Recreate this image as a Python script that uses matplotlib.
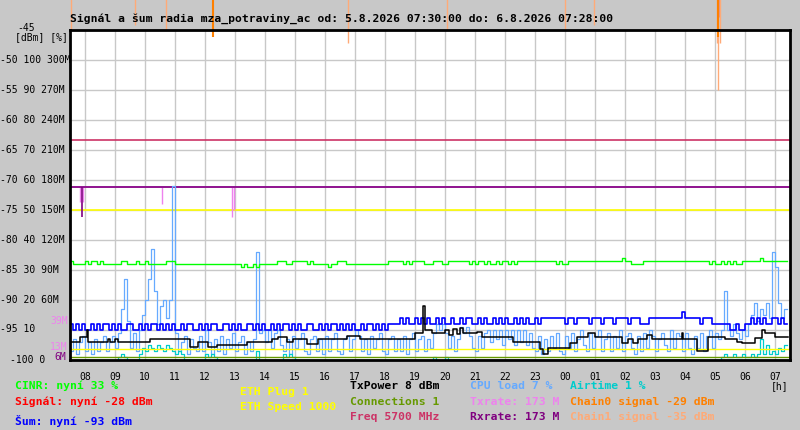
import numpy as np
import matplotlib
matplotlib.use("Agg")
import matplotlib.pyplot as plt

# Time axis: hours since 07:30, one sample every 6 minutes
hour_labels = ['08', '09', '10', '11', '12', '13', '14', '15', '16', '17', '18', '19',
               '20', '21', '22', '23', '00', '01', '02', '03', '04', '05', '06', '07']
step_h = 0.1

# CINR in % (digit = value - 30)
cinr_str = ("2322223233" "2322222233" "2223223222" "2223332222" "2222222222"
            "2222222212" "1121222222" "3332233333" "2322222122" "3332222222"
            "2222222333" "3323233332" "2233322333" "3333232332" "3223233232"
            "3333333333" "3332322333" "3333333333" "3333343322" "2233333333"
            "3333333333" "3333232232" "3232233333" "3433333333")

# noise in dBm (digit = -(90 + d)), first sample separate
noise_first = -69.5
noise_str = ("4545455454" "5445454554" "4554545445" "4545455454" "4554545445"
             "5445454554" "4545455454" "5445454554" "4554545445" "4545455454"
             "454545" "444"
             "4343443434" "3443434434" "4343344343" "4434343443" "434344343"
             "3333333" "4334" "3333" "4" "333" "4" "333" "4" "3333" "4" "333" "44" "4"
             "33333333333" "2" "33333" "4" "333" "4"
             "444445545544" "343434433434")

cpu_load = [6, 3, 7, 2, 6, 8, 3, 6, 2, 7,
            3, 6, 8, 3, 6, 8, 4, 9, 17, 27,
            13, 4, 9, 3, 10, 15, 20, 27, 37, 23,
            12, 18, 20, 14, 20, 58, 9, 3, 6, 8,
            2, 7, 4, 3, 8, 3, 10, 6, 2, 7,
            3, 8, 2, 7, 4, 9, 3, 6, 8, 2,
            6, 3, 7, 36, 9, 10, 6, 10, 4, 9,
            10, 5, 3, 7, 2, 8, 4, 7, 9, 3,
            2, 7, 8, 3, 7, 2, 8, 3, 7, 9,
            3, 2, 7, 8, 3, 7, 10, 8, 3, 7,
            2, 8, 4, 7, 9, 3, 2, 7, 8, 3,
            7, 3, 8, 2, 7, 9, 3, 7, 8, 3,
            7, 4, 9, 12, 10, 12, 9, 4, 8, 3,
            7, 11, 9, 11, 8, 4, 3, 8, 4, 9,
            10, 6, 10, 7, 10, 5, 10, 7, 10, 5,
            10, 6, 10, 5, 9, 4, 3, 8, 2, 7,
            3, 8, 4, 9, 3, 2, 8, 4, 9, 3,
            7, 10, 5, 3, 9, 4, 8, 10, 3, 7,
            9, 3, 8, 4, 10, 3, 8, 9, 4, 2,
            8, 3, 9, 4, 10, 8, 3, 7, 9, 5,
            3, 10, 4, 9, 8, 3, 9, 4, 2, 8,
            4, 9, 3, 8, 10, 4, 9, 7, 10, 23,
            10, 8, 12, 9, 7, 10, 8, 12, 15, 19,
            13, 17, 15, 19, 14, 36, 31, 19, 14, 17]

airtime = [0, 0, 0, 0, 0, 0, 0, 0, 0, 0,
           0, 0, 0, 0, 0, 0, 0, 1, 2, 1,
           0, 0, 0, 0, 2, 4, 3, 5, 4, 3,
           5, 4, 3, 5, 4, 3, 2, 3, 2, 0,
           0, 0, 0, 0, 0, 0, 2, 1, 2, 1,
           0, 0, 0, 0, 0, 0, 0, 0, 0, 0,
           0, 0, 0, 3, 0, 0, 0, 0, 0, 0,
           0, 0, 2, 1, 2, 1, 0, 0, 0, 0,
           0, 0, 0, 0, 0, 0, 0, 0, 0, 0,
           0, 0, 0, 0, 0, 0, 0, 0, 0, 0,
           0, 0, 0, 0, 0, 0, 0, 0, 0, 0,
           0, 0, 0, 0, 0, 0, 0, 0, 0, 0,
           0, 0, 1, 0, 0, 0, 1, 0, 0, 0,
           0, 0, 0, 0, 0, 0, 0, 0, 0, 0,
           0, 0, 0, 0, 0, 0, 0, 0, 0, 0,
           0, 0, 0, 0, 0, 0, 0, 0, 0, 0,
           0, 0, 0, 0, 0, 0, 0, 0, 0, 0,
           0, 0, 0, 0, 0, 0, 0, 0, 0, 0,
           0, 0, 0, 0, 0, 0, 0, 0, 0, 0,
           0, 0, 0, 0, 0, 0, 0, 0, 0, 0,
           0, 0, 0, 0, 0, 0, 0, 0, 0, 0,
           0, 0, 0, 0, 0, 0, 0, 0, 1, 2,
           1, 1, 2, 1, 1, 2, 1, 1, 2, 1,
           2, 7, 2, 5, 2, 3, 2, 4, 3, 5]

# TxPower trace (plotted level, step changes)
txpower_h = [0, 0.33, 0.57, 0.6, 1.27, 1.33, 1.5, 1.6, 2.67, 4.0, 4.27, 4.6, 4.9, 5.9,
             6.73, 6.93, 7.23, 7.43, 7.9, 8.27, 9.23, 9.67, 11.5, 11.77, 11.83, 12.07,
             12.5, 12.63, 12.77, 12.9, 13.0, 13.1, 13.23, 13.57, 13.73, 14.77, 15.67,
             15.77, 15.93, 16.67, 16.9, 17.27, 17.5, 18.4, 18.6, 18.77, 18.93, 19.23,
             19.4, 20.4, 20.43, 20.9, 21.27, 21.83, 22.23, 22.4, 22.83, 23.07, 23.17,
             23.5, 23.93]
txpower_v = [-97.05, -96.1, -95.0, -97.05, -96.55, -97.05, -96.55, -97.05, -96.55, -97.9,
             -97.05, -97.9, -97.5, -97.05, -96.55, -96.1, -97.05, -96.55, -97.4, -96.55,
             -96.0, -96.55, -95.55, -91.0, -95.0, -95.55, -95.0, -95.8, -94.9, -95.6,
             -94.7, -95.5, -95.55, -95.3, -96.1, -96.95, -98.2, -99.0, -98.05, -97.1,
             -96.1, -95.45, -96.1, -97.1, -96.55, -97.1, -96.55, -95.85, -96.55, -95.55,
             -96.55, -98.5, -96.1, -96.55, -96.95, -97.1, -96.3, -95.0, -95.55, -96.1,
             -96.1]

# constant levels
freq_level = -63.4
rate_now = 173          # Mbit/s
eth_speed = 1000        # Mbit/s -> % scale /20
eth_plug_level = -98.2
connections = 1

txrate_dip_h = [0.34, 0.44, 3.07, 5.4, 5.45]
txrate_dip_v = [158, 158, 156, 143, 150]
rxrate_dip_h = [0.39]
rxrate_dip_v = [143]

signal_now = -28
signal_dip_h = [21.6]
signal_dip_v = [-42.8]
chain0_now = -29
chain0_dip_h = [4.75, 21.6]
chain0_dip_v = [-46.1, -46.2]
chain1_now = -35
chain1_dip_h = [0.02, 2.18, 3.2, 9.27, 12.57, 16.5, 17.47, 21.55, 21.65, 21.6]
chain1_dip_v = [-45, -44.2, -45, -47.1, -45, -45, -44.2, -47.2, -47.2, -55]

txrate_min_label = '39M'
txrate_min2_label = '13M'
rxrate_min_label = '6M'


def pct(v):
    return -100 + np.asarray(v, dtype=float) / 2


def mbit(v):
    return -100 + np.asarray(v, dtype=float) / 6


cinr = pct([30 + int(c) for c in cinr_str])
noise = np.array([noise_first] + [-(90 + int(c)) for c in noise_str], dtype=float)

mono = 'DejaVu Sans Mono'
bg = '#c8c8c8'

fig = plt.figure(figsize=(8, 4.3), dpi=100, facecolor=bg)
ax = fig.add_axes([70 / 800, 70 / 430, 720 / 800, 330 / 430])
ax.set_facecolor('white')
ax.set_xlim(0, 24)
ax.set_ylim(-100, -45)
ax.set_xticks(np.arange(0.5, 24, 1))
ax.set_yticks(np.arange(-100, -44, 5))
ax.tick_params(length=0, labelbottom=False, labelleft=False)
ax.grid(True, color=bg, lw=1.0)
ax.set_axisbelow(True)
for s in ax.spines.values():
    s.set_linewidth(2)
    s.set_color('black')
    s.set_zorder(10)

lw = 0.9

def xs(n):
    return np.arange(n) * step_h

# horizontal levels
ax.axhline(freq_level, color='#cc3366', lw=1.2, zorder=2)
ax.axhline(pct(eth_speed / 20), color='#ffff00', lw=1.2, zorder=2)
ax.axhline(eth_plug_level, color='#ffff00', lw=1.0, zorder=4)
ax.axhline(pct(connections), color='#669900', lw=1.0, zorder=4)

# rates
ax.axhline(mbit(rate_now), color='#ee82ee', lw=1.2, zorder=2)
ax.vlines(txrate_dip_h, mbit(txrate_dip_v), mbit(rate_now), color='#ee82ee', lw=1.0, zorder=2)
ax.axhline(mbit(rate_now), color='#800080', lw=1.2, zorder=3)
ax.vlines(rxrate_dip_h, mbit(rxrate_dip_v), mbit(rate_now), color='#800080', lw=1.2, zorder=3)

# cpu, airtime
ax.plot(xs(len(cpu_load)), pct(cpu_load), color='#66aaff', lw=lw, drawstyle='steps-pre', zorder=3)
ax.plot(xs(len(airtime)), pct(airtime), color='#00cccc', lw=lw, drawstyle='steps-pre', zorder=3.5)

# cinr, noise, tx power
ax.plot(xs(len(cinr)), cinr, color='#00ff00', lw=1.0, drawstyle='steps-pre', zorder=4)
ax.plot(xs(len(noise)), noise, color='#0000ff', lw=1.2, drawstyle='steps-pre', zorder=5)
ax.plot(txpower_h, txpower_v, color='black', lw=1.1, drawstyle='steps-post', zorder=6)

# signal / chain dips run above the plot area
ax.vlines(chain0_dip_h, chain0_dip_v, chain0_now, color='#ff8000', lw=1.5, clip_on=False, zorder=6)
ax.vlines(signal_dip_h, signal_dip_v, signal_now, color='#ff0000', lw=1.0, clip_on=False, zorder=5.5)
ax.vlines(chain1_dip_h, chain1_dip_v, chain1_now, color='#ffaa77', lw=1.0, clip_on=False, zorder=5)

# hour labels
xt = ax.get_xaxis_transform()
for k, lab in enumerate(hour_labels):
    ax.text(0.5 + k, -0.052, lab, transform=xt, ha='center', va='center',
            fontsize=7, family=mono, color='black')
ax.text(23.65, -0.078, '[h]', transform=xt, ha='center', va='center', fontsize=7, family=mono)

# y labels: dBm, %, Mbit columns
yt = ax.get_yaxis_transform()
def px_x(p):
    return (p - 70) / 720

for d in range(-90, -49, 5):
    lab = f"{d} {(d + 100) * 2} {(d + 100) * 6}M"
    ax.text(px_x(0), d, lab, transform=yt, ha='left', va='center', fontsize=7, family=mono)
ax.text(px_x(0), -94.8, f"-95 {(-95 + 100) * 2}", transform=yt, ha='left', va='center',
        fontsize=7, family=mono)
ax.text(px_x(10), -100, "-100 0", transform=yt, ha='left', va='center', fontsize=7, family=mono)
ax.text(px_x(17), -44.6, "-45", transform=yt, ha='left', va='center', fontsize=7, family=mono)
ax.text(px_x(15), -46.2, "[dBm] [%]", transform=yt, ha='left', va='center', fontsize=7, family=mono)
ax.text(px_x(50), mbit(39), txrate_min_label, transform=yt, ha='left', va='center',
        fontsize=7, family=mono, color='#ee82ee')
ax.text(px_x(50), mbit(13), txrate_min2_label, transform=yt, ha='left', va='center',
        fontsize=7, family=mono, color='#ee82ee')
ax.text(px_x(54), mbit(6) - 0.5, rxrate_min_label, transform=yt, ha='left', va='center',
        fontsize=7, family=mono, color='#800080')

# title
fig.text(70 / 800, 1 - 19 / 430,
         "Signál a šum radia mza_potraviny_ac od: 5.8.2026 07:30:00 do: 6.8.2026 07:28:00",
         fontsize=8.2, family=mono, fontweight='bold', ha='left', va='center', zorder=20)

# legend texts
legend = [
    (15, 386, "CINR: nyní 33 %", '#00ff00'),
    (15, 402, "Signál: nyní -28 dBm", '#ff0000'),
    (15, 421, "Šum: nyní -93 dBm", '#0000ff'),
    (240, 392, "ETH Plug 1", '#ffff00'),
    (240, 407, "ETH Speed 1000", '#ffff00'),
    (350, 386, "TxPower 8 dBm", 'black'),
    (350, 402, "Connections 1", '#669900'),
    (350, 417, "Freq 5700 MHz", '#cc3366'),
    (470, 386, "CPU load 7 %", '#66aaff'),
    (470, 402, "Txrate: 173 M", '#ee82ee'),
    (470, 417, "Rxrate: 173 M", '#800080'),
    (570, 386, "Airtime 1 %", '#00cccc'),
    (570, 402, "Chain0 signal -29 dBm", '#ff8000'),
    (570, 417, "Chain1 signal -35 dBm", '#ffaa77'),
]
for x, y, txt, col in legend:
    fig.text(x / 800, 1 - y / 430, txt, color=col, fontsize=8.2, family=mono,
             fontweight='bold', ha='left', va='center')

fig.savefig('out.png', dpi=100, facecolor=bg)
